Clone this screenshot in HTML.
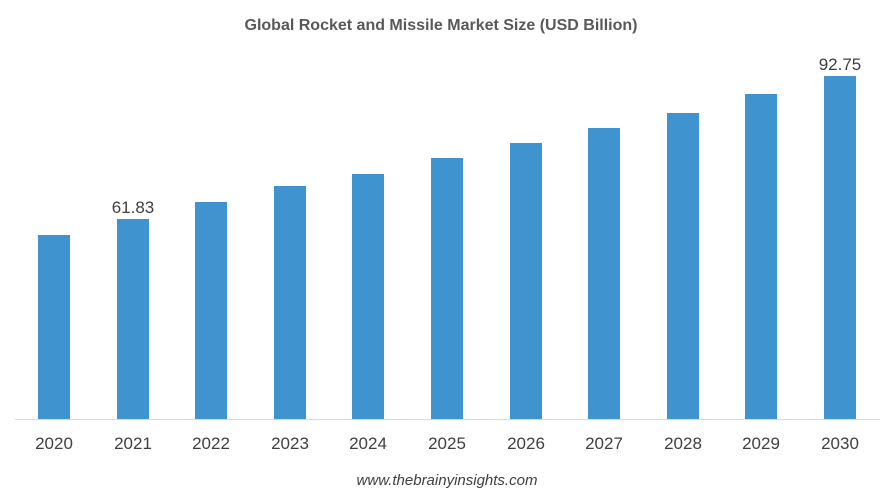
<!DOCTYPE html>
<html><head><meta charset="utf-8"><style>
body{margin:0;background:#fff;width:883px;height:496px;overflow:hidden;font-family:"Liberation Sans",Arial,sans-serif}
</style></head><body>
<svg width="883" height="496" xmlns="http://www.w3.org/2000/svg" font-family="Liberation Sans, Arial, sans-serif">
<text x="441" y="30" text-anchor="middle" font-size="16" font-weight="bold" fill="#595959">Global Rocket and Missile Market Size (USD Billion)</text>
<g fill="#3f94cf">
<rect x="38" y="235" width="32" height="184"/>
<rect x="117" y="219" width="32" height="200"/>
<rect x="195" y="202" width="32" height="217"/>
<rect x="274" y="186" width="32" height="233"/>
<rect x="352" y="174" width="32" height="245"/>
<rect x="431" y="158" width="32" height="261"/>
<rect x="510" y="143" width="32" height="276"/>
<rect x="588" y="128" width="32" height="291"/>
<rect x="667" y="113" width="32" height="306"/>
<rect x="745" y="94" width="32" height="325"/>
<rect x="824" y="76" width="32" height="343"/>
</g>
<line x1="15" y1="419.5" x2="880" y2="419.5" stroke="#d9d9d9" stroke-width="1"/>
<text x="133" y="213" text-anchor="middle" font-size="17" fill="#404040">61.83</text>
<text x="840" y="70" text-anchor="middle" font-size="17" fill="#404040">92.75</text>
<g font-size="17" fill="#404040" text-anchor="middle">
<text x="54" y="449">2020</text><text x="133" y="449">2021</text><text x="211" y="449">2022</text>
<text x="290" y="449">2023</text><text x="368" y="449">2024</text><text x="447" y="449">2025</text>
<text x="526" y="449">2026</text><text x="604" y="449">2027</text><text x="683" y="449">2028</text>
<text x="761" y="449">2029</text><text x="840" y="449">2030</text>
</g>
<text x="447" y="485" text-anchor="middle" font-size="15" font-style="italic" fill="#404040">www.thebrainyinsights.com</text>
</svg>
</body></html>
